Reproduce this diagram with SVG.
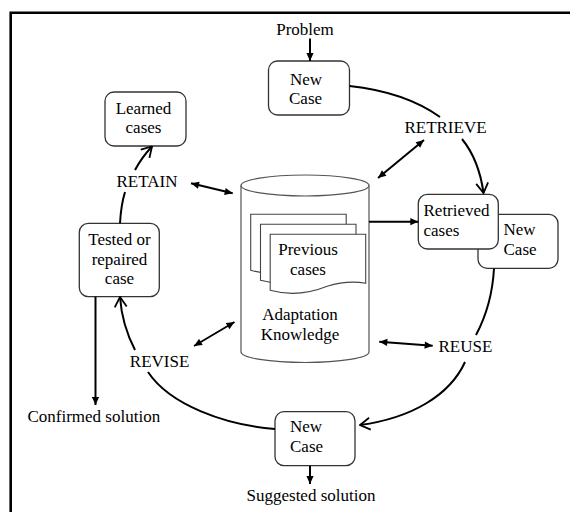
<svg xmlns="http://www.w3.org/2000/svg" width="570" height="512" viewBox="0 0 570 512">
<style>
text{font-family:"Liberation Serif","Times New Roman",serif;font-size:17px;fill:#000}
.box{fill:#fff;stroke:#333;stroke-width:1.3}
.cyl{fill:#fff;stroke:#555;stroke-width:1.2}
.doc{fill:#fff;stroke:#444;stroke-width:1.1}
.c{fill:none;stroke:#000;stroke-width:2}
.m{text-anchor:middle}
</style>
<defs>
<marker id="fa" viewBox="0 0 10 10" refX="10" refY="5" markerWidth="9" markerHeight="8" markerUnits="userSpaceOnUse" orient="auto-start-reverse"><path d="M0,0.5 L10,5 L0,9.5 z" fill="#000"/></marker>
<marker id="oa" viewBox="0 0 12 14" refX="11" refY="7" markerWidth="12" markerHeight="14" markerUnits="userSpaceOnUse" orient="auto"><path d="M1,1 L11,7 L1,13" fill="none" stroke="#000" stroke-width="1.8"/></marker>
<path id="docshape" d="M0,0 H95.5 V49 C85,47 73,47 57,52 C37,60 18,61 0,56 Z"/>
</defs>
<rect width="570" height="512" fill="#fff"/>
<path d="M10.7,512 V12.7 H570" fill="none" stroke="#000" stroke-width="2.6"/>

<g id="problem"><text class="m" x="305" y="35">Problem</text></g>

<g id="new-case-top">
<rect class="box" x="268.5" y="61" width="81" height="54" rx="9"/>
<text x="290" y="85">New</text><text x="289" y="104">Case</text>
</g>

<g id="learned-cases">
<rect class="box" x="105" y="92" width="81" height="54" rx="9"/>
<text class="m" x="143.5" y="114">Learned</text><text class="m" x="143.5" y="133">cases</text>
</g>

<g id="tested-case">
<rect class="box" x="79.3" y="223.3" width="80" height="73.4" rx="9"/>
<text class="m" x="119.5" y="245">Tested or</text><text class="m" x="119.5" y="265">repaired</text><text class="m" x="119.5" y="284.3">case</text>
</g>

<g id="case-base">
<path class="cyl" d="M241,185.5 V352 A64,10.5 0 0 0 369,352 V185.5"/>
<ellipse class="cyl" cx="305" cy="185.5" rx="64" ry="10.5"/>
<use href="#docshape" class="doc" x="250.7" y="214.3"/>
<use href="#docshape" class="doc" x="260.5" y="224.3"/>
<use href="#docshape" class="doc" x="270.2" y="234.3"/>
<text class="m" x="308" y="255">Previous</text><text class="m" x="308" y="275">cases</text>
<text class="m" x="300" y="320">Adaptation</text><text class="m" x="300" y="340">Knowledge</text>
</g>

<g id="new-case-right">
<rect class="box" x="478" y="214.3" width="80" height="54" rx="9"/>
<text x="503.5" y="235">New</text><text x="503.5" y="255">Case</text>
</g>

<g id="retrieved-cases">
<rect class="box" x="418.3" y="194.3" width="80" height="54.7" rx="9"/>
<text x="423.5" y="215.7">Retrieved</text><text x="423.5" y="235.7">cases</text>
</g>

<g id="new-case-bottom">
<rect class="box" x="275" y="411.7" width="80" height="54" rx="9"/>
<text x="290" y="431.7">New</text><text x="290" y="452.3">Case</text>
</g>

<g id="outputs">
<text class="m" x="311" y="500.7">Suggested solution</text>
<text class="m" x="93.8" y="421.7">Confirmed solution</text>
</g>

<g id="connectors">
<path class="c" d="M310,38.5 V61" marker-end="url(#fa)"/>
<path class="c" d="M349.5,86 Q405,92 440,117"/>
<path class="c" d="M462,139 Q479,160 483.5,193" marker-end="url(#oa)"/>
<path class="c" d="M424,140 L378,178" marker-start="url(#fa)" marker-end="url(#fa)"/>
<path class="c" d="M369,221.7 H418.3" marker-end="url(#fa)"/>
<path class="c" d="M494,268.5 Q492,305 476,335"/>
<path class="c" d="M379.3,341.7 L432.7,345.7" marker-start="url(#fa)" marker-end="url(#fa)"/>
<path class="c" d="M465,362 C450,395 412,418 360,425" marker-end="url(#oa)"/>
<path class="c" d="M310,465.7 V484" marker-end="url(#fa)"/>
<path class="c" d="M275,429 C225,425 170,405 148,372"/>
<path class="c" d="M135,350 Q122,325 120,297" marker-end="url(#oa)"/>
<path class="c" d="M194,346 L234.5,322" marker-start="url(#fa)" marker-end="url(#fa)"/>
<path class="c" d="M95.5,296.7 V405" marker-end="url(#fa)"/>
<path class="c" d="M120,223.3 Q121,205 125,192"/>
<path class="c" d="M135,170 Q142,157 152,146.5" marker-end="url(#oa)"/>
<path class="c" d="M191,183.3 L232.7,193.3" marker-start="url(#fa)" marker-end="url(#fa)"/>
<text class="m" x="445.5" y="132.7">RETRIEVE</text>
<text class="m" x="465.4" y="351.7">REUSE</text>
<text class="m" x="159.6" y="366.7">REVISE</text>
<text class="m" x="147" y="186.5">RETAIN</text>
</g>
</svg>
